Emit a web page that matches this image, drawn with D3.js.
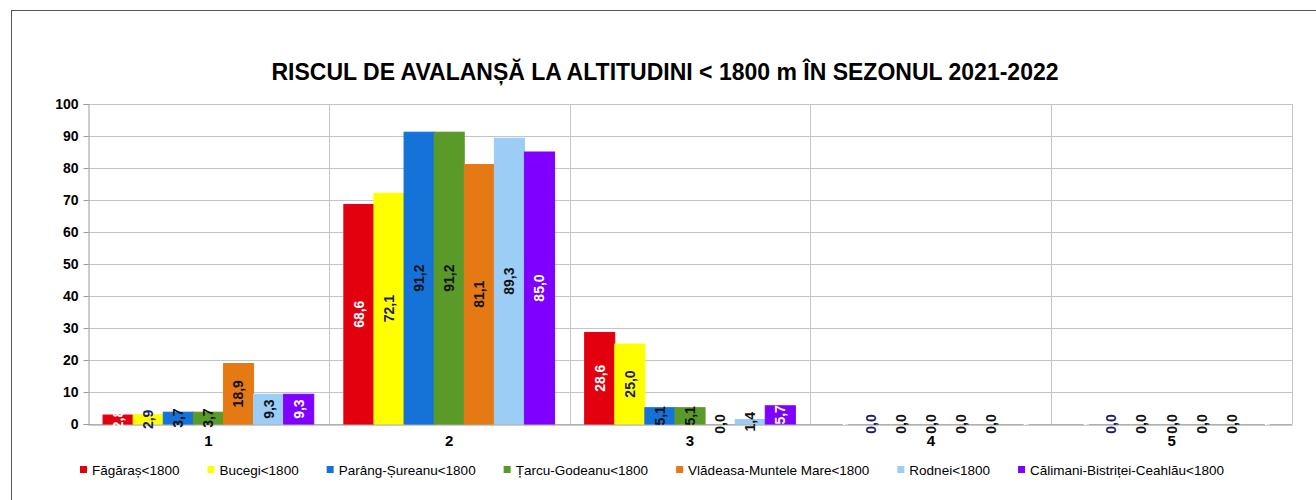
<!DOCTYPE html>
<html>
<head>
<meta charset="utf-8">
<script src="https://cdn.jsdelivr.net/npm/d3@7"></script>
<style>
  body { margin: 0; background: #fff; }
  svg { display: block; font-family: "Liberation Sans", Arial, sans-serif; }
</style>
</head>
<body>
<div id="chart"></div>
<script>
// categories on the x axis (risk levels 1..5)
const riskLevels = ["1", "2", "3", "4", "5"];

// one series per massif, values in % of days per risk level
const seriesNames = [
  "Făgăraș<1800",
  "Bucegi<1800",
  "Parâng-Șureanu<1800",
  "Țarcu-Godeanu<1800",
  "Vlădeasa-Muntele Mare<1800",
  "Rodnei<1800",
  "Călimani-Bistriței-Ceahlău<1800"
];
const fagaras  = [2.8, 68.6, 28.6, 0, 0];
const bucegi   = [2.9, 72.1, 25.0, 0, 0];
const parang   = [3.7, 91.2, 5.1, 0, 0];
const tarcu    = [3.7, 91.2, 5.1, 0, 0];
const vladeasa = [18.9, 81.1, 0, 0, 0];
const rodnei   = [9.3, 89.3, 1.4, 0, 0];
const calimani = [9.3, 85.0, 5.7, 0, 0];
const seriesValues = [fagaras, bucegi, parang, tarcu, vladeasa, rodnei, calimani];

const yTicks = [0, 10, 20, 30, 40, 50, 60, 70, 80, 90, 100];

const colors = ["#e2000f", "#ffff00", "#1572d9", "#5a9a28", "#e57a14", "#9ccdf7", "#7f00ff"];
const labelColors = ["#fff", "#1b1b6b", "#111", "#111", "#111", "#111", "#fff"];

const title = "RISCUL DE AVALANȘĂ LA ALTITUDINI < 1800 m ÎN SEZONUL 2021-2022";

// ---- Layout ----
const width = 1316, height = 500;
const plot = { left: 88, right: 1292, top: 104, bottom: 424 };

const svg = d3.select("#chart").append("svg")
  .attr("width", width)
  .attr("height", height);

// outer frame
svg.append("rect")
  .attr("x", 11.5).attr("y", 10.5)
  .attr("width", width).attr("height", height)
  .attr("fill", "none")
  .attr("stroke", "#555");

svg.append("text")
  .attr("x", 665)
  .attr("y", 80)
  .attr("text-anchor", "middle")
  .attr("font-size", 23)
  .attr("font-weight", 700)
  .text(title);

const x0 = d3.scaleBand()
  .domain(riskLevels)
  .range([plot.left, plot.right])
  .paddingInner(0).paddingOuter(0);

const x1 = d3.scaleBand()
  .domain(d3.range(seriesNames.length))
  .range([0, x0.bandwidth()])
  .paddingInner(0).paddingOuter(0.5);

const y = d3.scaleLinear([0, 100], [plot.bottom, plot.top]);

// horizontal grid
svg.append("g")
  .selectAll("line")
  .data(yTicks)
  .join("line")
  .attr("x1", plot.left).attr("x2", plot.right)
  .attr("y1", d => Math.round(y(d)) + 0.5)
  .attr("y2", d => Math.round(y(d)) + 0.5)
  .attr("stroke", "#c4c4c4");

// vertical grid at category boundaries
svg.append("g")
  .selectAll("line")
  .data(riskLevels)
  .join("line")
  .attr("x1", d => Math.round(x0(d) + x0.bandwidth()) + 0.5)
  .attr("x2", d => Math.round(x0(d) + x0.bandwidth()) + 0.5)
  .attr("y1", plot.top)
  .attr("y2", plot.bottom)
  .attr("stroke", "#c4c4c4");

// y axis
const yAxis = svg.append("g")
  .attr("transform", `translate(${plot.left + 0.5},0)`)
  .call(d3.axisLeft(y).tickValues(yTicks).tickSize(5).tickPadding(5));
yAxis.select(".domain").attr("stroke", "#9a9a9a");
yAxis.selectAll(".tick line").attr("stroke", "#9a9a9a");
yAxis.selectAll(".tick text")
  .attr("font-family", "Liberation Sans, Arial, sans-serif")
  .attr("font-size", 14)
  .attr("font-weight", 700)
  .attr("fill", "#000");

// x axis
const xAxis = svg.append("g")
  .attr("transform", `translate(0,${plot.bottom + 0.5})`)
  .call(d3.axisBottom(x0).tickSize(0).tickPadding(11));
xAxis.select(".domain").attr("stroke", "#9a9a9a");
xAxis.selectAll(".tick text")
  .attr("font-family", "Liberation Sans, Arial, sans-serif")
  .attr("font-size", 15)
  .attr("font-weight", 700)
  .attr("fill", "#000");

// bars
const cells = [];
seriesValues.forEach((vals, s) => {
  vals.forEach((v, c) => cells.push({ s, cat: riskLevels[c], v }));
});

const barsG = svg.append("g");
barsG.selectAll("rect")
  .data(cells)
  .join("rect")
  .attr("x", d => x0(d.cat) + x1(d.s))
  .attr("y", d => y(d.v))
  .attr("width", x1.bandwidth())
  .attr("height", d => y(0) - y(d.v))
  .attr("fill", d => colors[d.s])
  .attr("stroke", d => colors[d.s])
  .attr("stroke-width", 1);

// value labels, rotated, centred on the bar
const fmt = v => d3.format(".1f")(v).replace(".", ",");
svg.append("g")
  .selectAll("text")
  .data(cells)
  .join("text")
  .attr("transform", d => `translate(${x0(d.cat) + x1(d.s) + x1.bandwidth() / 2},${y(d.v / 2)}) rotate(-90)`)
  .attr("text-anchor", "middle")
  .attr("dy", "0.35em")
  .attr("font-size", 14)
  .attr("font-weight", 700)
  .attr("fill", d => labelColors[d.s])
  .text(d => fmt(d.v));

// legend
const legend = svg.append("g").attr("transform", "translate(80,470)");
let lx = 0;
seriesNames.forEach((name, i) => {
  const g = legend.append("g").attr("transform", `translate(${lx},0)`);
  g.append("rect")
    .attr("x", 0).attr("y", -4)
    .attr("width", 7).attr("height", 7)
    .attr("fill", colors[i]);
  const t = g.append("text")
    .attr("x", 12)
    .attr("dy", "0.35em")
    .attr("font-size", 13.5)
    .attr("fill", "#000")
    .text(name);
  lx += 12 + t.node().getComputedTextLength() + 28;
});
</script>
</body>
</html>
